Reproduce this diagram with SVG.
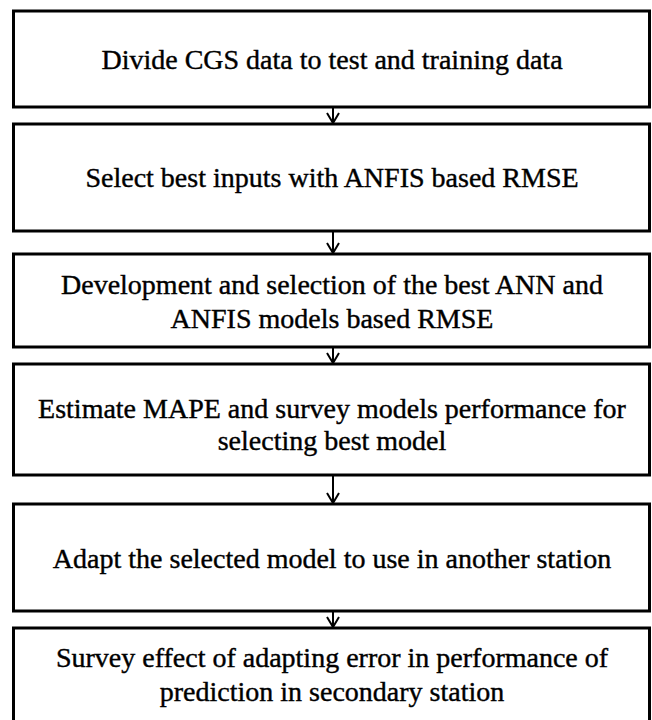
<svg xmlns="http://www.w3.org/2000/svg" width="652" height="720" viewBox="0 0 652 720">
<defs>
<marker id="ah" markerWidth="14" markerHeight="14" refX="12" refY="7" orient="auto" markerUnits="userSpaceOnUse">
<path d="M2,1 L12,7 L2,13" fill="none" stroke="#000" stroke-width="2"/>
</marker>
<style>
.box{fill:#fff;stroke:#000;stroke-width:3}
.t{font-family:"Liberation Serif","Times New Roman",serif;font-size:28px;fill:#000;stroke:#000;stroke-width:0.4;text-anchor:middle;dominant-baseline:central}
.c{stroke:#000;stroke-width:2;fill:none}
</style>
</defs>
<rect width="652" height="720" fill="#fff"/>
<g id="n1"><rect class="box" x="13.5" y="11" width="636" height="96"/><text class="t" x="332" y="59">Divide CGS data to test and training data</text></g>
<g id="n2"><rect class="box" x="13.5" y="124" width="636" height="107"/><text class="t" x="332" y="177">Select best inputs with ANFIS based RMSE</text></g>
<g id="n3"><rect class="box" x="13.5" y="254" width="636" height="93"/><text class="t" x="332" y="284">Development and selection of the best ANN and</text><text class="t" x="332" y="318">ANFIS models based RMSE</text></g>
<g id="n4"><rect class="box" x="13.5" y="364" width="636" height="111"/><text class="t" x="332" y="408">Estimate MAPE and survey models performance for</text><text class="t" x="332" y="440">selecting best model</text></g>
<g id="n5"><rect class="box" x="13.5" y="504" width="636" height="107"/><text class="t" x="332" y="558">Adapt the selected model to use in another station</text></g>
<g id="n6"><rect class="box" x="13.5" y="628" width="636" height="120"/><text class="t" x="332" y="657">Survey effect of adapting error in performance of</text><text class="t" x="332" y="691">prediction in secondary station</text></g>
<g id="connectors">
<line class="c" x1="333" y1="107" x2="333" y2="123" marker-end="url(#ah)"/>
<line class="c" x1="333" y1="231" x2="333" y2="253" marker-end="url(#ah)"/>
<line class="c" x1="333" y1="347" x2="333" y2="363" marker-end="url(#ah)"/>
<line class="c" x1="333" y1="475" x2="333" y2="503" marker-end="url(#ah)"/>
<line class="c" x1="333" y1="611" x2="333" y2="627" marker-end="url(#ah)"/>
</g>
</svg>
